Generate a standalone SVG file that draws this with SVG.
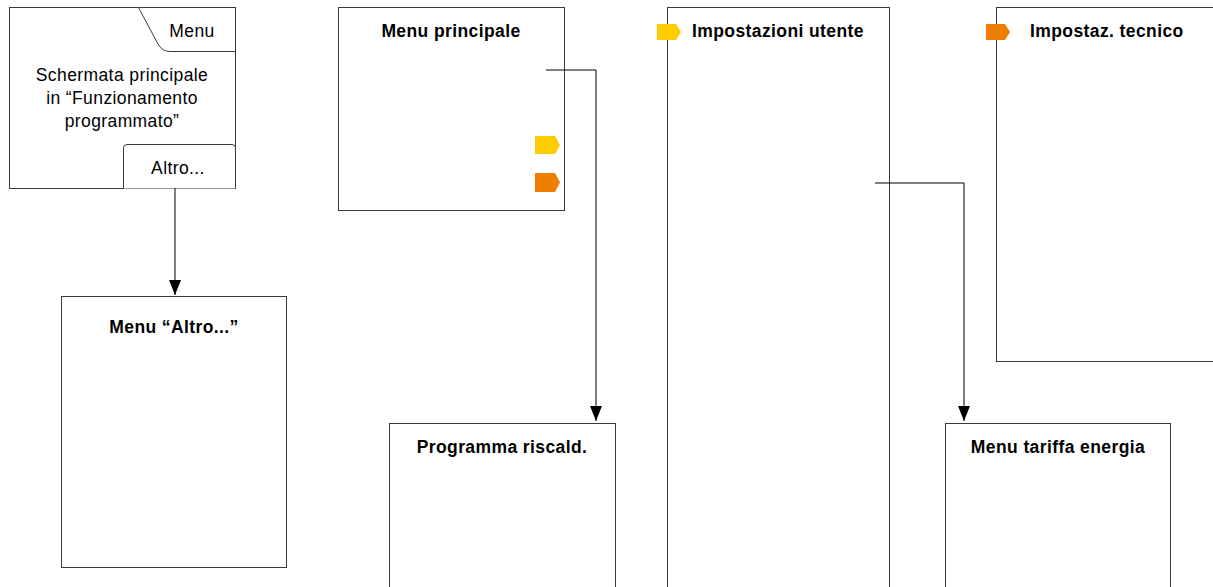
<svg xmlns="http://www.w3.org/2000/svg" width="1213" height="587" viewBox="0 0 1213 587">
<style>
.box{fill:#fff;stroke:#3a3a3a;stroke-width:1}
.t{font-family:"Liberation Sans",Arial,sans-serif;font-size:17.5px;fill:#000;letter-spacing:0.4px}
.b{font-weight:bold}
.c{text-anchor:middle}
.con{fill:none;stroke:#000;stroke-width:1}
</style>
<defs>
<marker id="arr" markerWidth="12" markerHeight="16" refX="6" refY="15" orient="0" markerUnits="userSpaceOnUse" viewBox="0 0 12 16">
<path d="M0,0 L12,0 L6,15 Z" fill="#000"/>
</marker>
</defs>
<rect width="1213" height="587" fill="#fff"/>
<g id="schermata">
<rect class="box" x="9.5" y="7.5" width="226" height="181"/>
<path class="box" d="M138.5,7.5 L158,44 Q162,51.5 170,51.5 H235.5"/>
<text class="t c" x="192" y="37">Menu</text>
<text class="t c" x="122" y="81">Schermata principale</text>
<text class="t c" x="122" y="104">in “Funzionamento</text>
<text class="t c" x="122" y="127">programmato”</text>
<path class="box" d="M123.5,188.5 V148 Q123.5,144.5 127,144.5 H232 Q235.5,144.5 235.5,148 V188.5"/>
<text class="t c" x="178" y="174">Altro...</text>
</g>
<g id="menu-altro">
<rect class="box" x="61.5" y="296.5" width="225" height="271"/>
<text class="t b c" x="174" y="333">Menu “Altro...”</text>
</g>
<g id="menu-principale">
<rect class="box" x="338.5" y="7.5" width="226" height="203"/>
<text class="t b c" x="451" y="37">Menu principale</text>
<path d="M535,136 H555 L560,145 L555,154 H535 Z" fill="#ffcc00"/>
<path d="M535,173 H555 L560,182.5 L555,192 H535 Z" fill="#ee7d00"/>
</g>
<g id="programma">
<rect class="box" x="389.5" y="423.5" width="226" height="170"/>
<text class="t b c" x="502" y="453">Programma riscald.</text>
</g>
<g id="impostazioni-utente">
<rect class="box" x="667.5" y="7.5" width="222" height="590"/>
<path d="M657,24 H676 L681,32 L676,40 H657 Z" fill="#ffcc00"/>
<text class="t b" x="692" y="37">Impostazioni utente</text>
</g>
<g id="impostaz-tecnico">
<rect class="box" x="996.5" y="7.5" width="230" height="354"/>
<path d="M986,24 H1005 L1010,32 L1005,40 H986 Z" fill="#ee7d00"/>
<text class="t b" x="1030" y="37">Impostaz. tecnico</text>
</g>
<g id="tariffa">
<rect class="box" x="945.5" y="423.5" width="225" height="170"/>
<text class="t b c" x="1058" y="453">Menu tariffa energia</text>
</g>
<g id="connectors">
<path class="con" d="M175,188 V295" marker-end="url(#arr)"/>
<path class="con" d="M546,70 H596 V421" marker-end="url(#arr)"/>
<path class="con" d="M875,183 H964 V421" marker-end="url(#arr)"/>
</g>
</svg>
